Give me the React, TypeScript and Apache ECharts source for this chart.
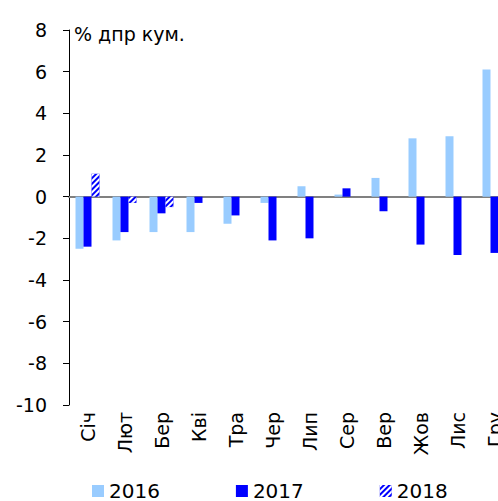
import React, { useEffect, useRef } from "react";
import * as echarts from "echarts";

const categories = ["Січ", "Лют", "Бер", "Кві", "Тра", "Чер", "Лип", "Сер", "Вер", "Жов", "Лис", "Гру"];
const seriesNames = ["2016", "2017", "2018"];
const values2016 = [-2.5, -2.1, -1.7, -1.7, -1.3, -0.3, 0.5, 0.1, 0.9, 2.8, 2.9, 6.1];
const values2017 = [-2.4, -1.7, -0.8, -0.3, -0.9, -2.1, -2.0, 0.4, -0.7, -2.3, -2.8, -2.7];
const values2018 = [1.1, -0.3, -0.5, null, null, null, null, null, null, null, null, null];
const yMin = -10;
const yMax = 8;
const yInterval = 2;
const unitLabel = "% дпр кум.";

const FONT = "'DejaVu Sans', Verdana, sans-serif";

export default function App() {
  const ref = useRef<HTMLDivElement>(null);
  useEffect(() => {
    if (!ref.current) return;
    const chart = echarts.init(ref.current, undefined, { renderer: "svg" });
    chart.setOption({
      animation: false,
      backgroundColor: "#ffffff",
      textStyle: { fontFamily: FONT },
      grid: { left: 69, top: 30, right: 7, bottom: 96, containLabel: false },
      legend: {
        left: 87,
        top: 476,
        itemWidth: 12,
        itemHeight: 12,
        itemGap: 76,
        icon: "rect",
        textStyle: { fontSize: 20, color: "#000", fontFamily: FONT },
        data: seriesNames,
      },
      graphic: [
        {
          type: "text",
          left: 74,
          top: 24,
          style: { text: unitLabel, fontSize: 19, fill: "#000", fontFamily: FONT },
        },
      ],
      xAxis: [
        {
          type: "category",
          data: categories,
          axisLine: { show: false, onZero: false },
          axisTick: { show: false },
          axisLabel: { rotate: 90, fontSize: 19, color: "#000", margin: 7, fontFamily: FONT },
        },
        {
          type: "category",
          data: categories,
          position: "bottom",
          axisLine: { show: true, onZero: true, lineStyle: { color: "#808080", width: 2 } },
          axisTick: { show: false },
          axisLabel: { show: false },
        },
      ],
      yAxis: {
        type: "value",
        min: yMin,
        max: yMax,
        interval: yInterval,
        axisLine: { show: true, lineStyle: { color: "#000", width: 1 } },
        axisTick: { show: true, inside: false, length: 6, lineStyle: { color: "#000" } },
        splitLine: { show: false },
        axisLabel: { fontSize: 19, color: "#000", margin: 22, fontFamily: FONT },
      },
      series: [
        {
          name: seriesNames[0],
          type: "bar",
          data: values2016,
          barWidth: 8,
          barGap: "0%",
          itemStyle: { color: "#99ccff" },
        },
        {
          name: seriesNames[1],
          type: "bar",
          data: values2017,
          barWidth: 8,
          barGap: "0%",
          itemStyle: { color: "#0000ff" },
        },
        {
          name: seriesNames[2],
          type: "bar",
          data: values2018,
          barWidth: 8,
          barGap: "0%",
          itemStyle: {
            color: "#0000ff",
            decal: {
              symbol: "rect",
              symbolSize: 1,
              dashArrayX: [[1, 0]],
              dashArrayY: [2, 2],
              rotation: -Math.PI / 4,
              color: "#ffffff",
            },
          },
        },
      ],
    });
    return () => chart.dispose();
  }, []);
  return (
    <div style={{ position: "absolute", left: 0, top: 0, width: 498, height: 501, overflow: "hidden" }}>
      <div ref={ref} style={{ width: 520, height: 501 }} />
    </div>
  );
}
